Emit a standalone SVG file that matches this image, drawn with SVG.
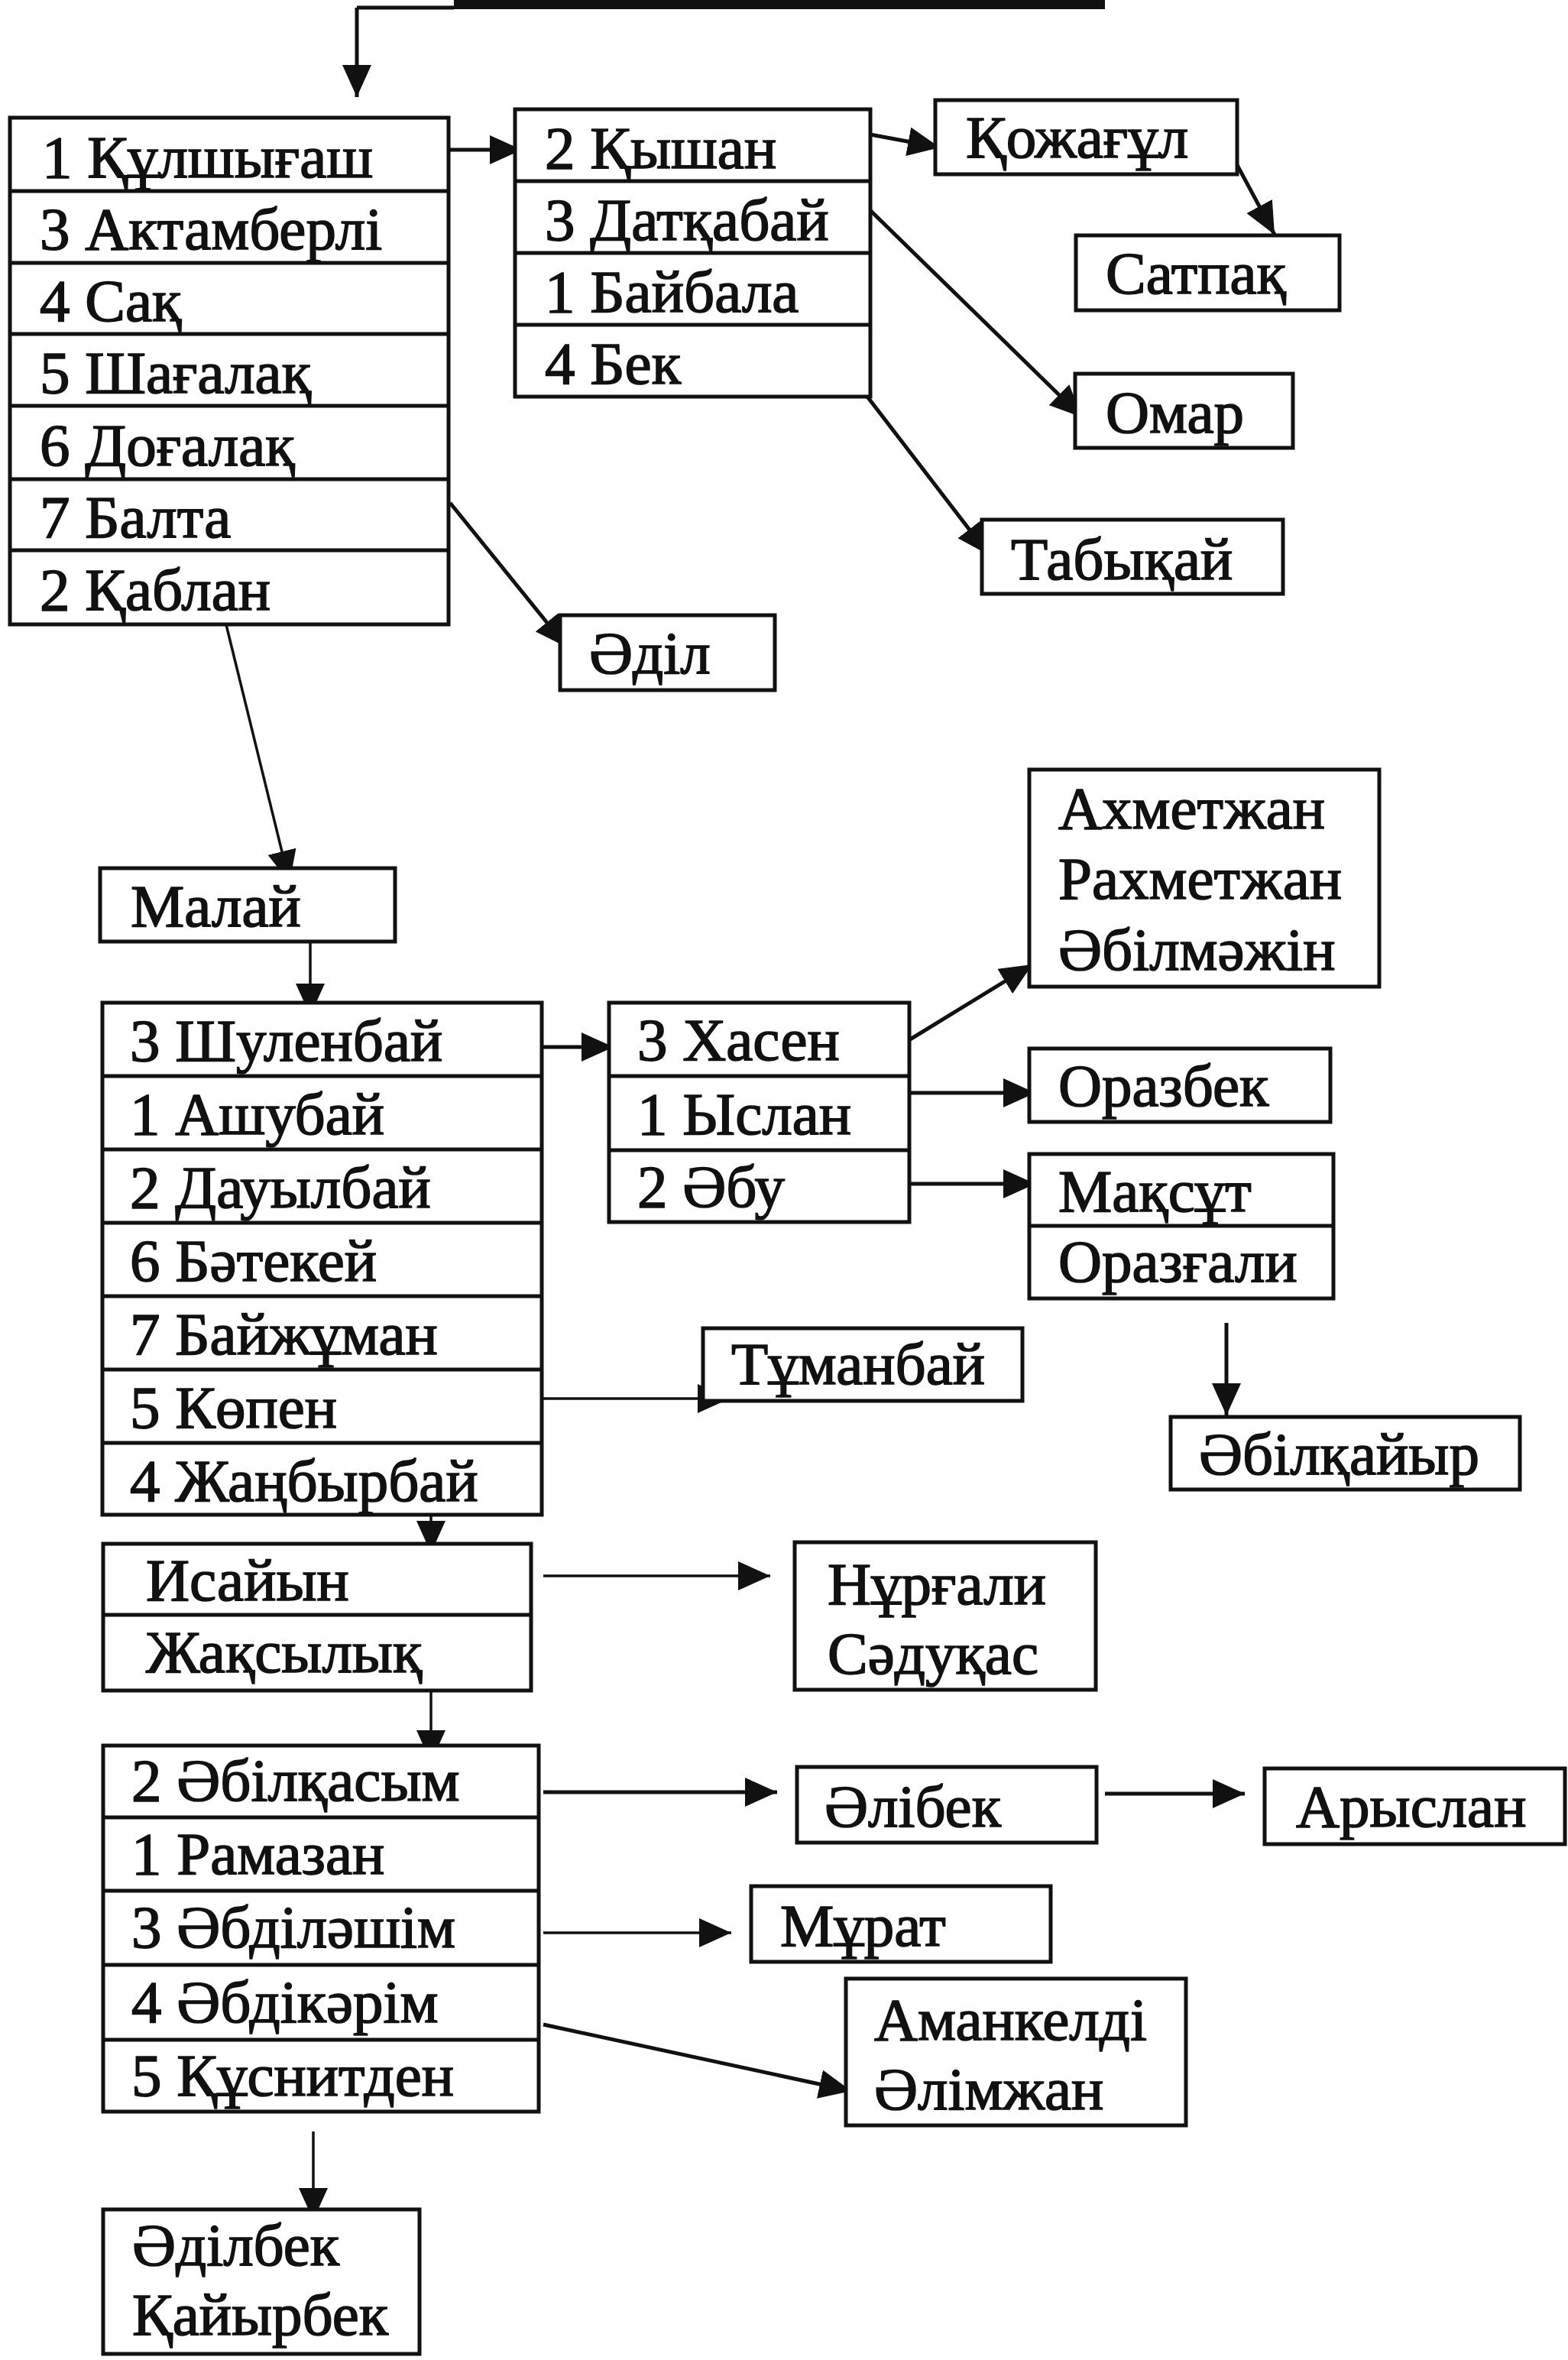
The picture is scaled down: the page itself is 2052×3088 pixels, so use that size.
<svg xmlns="http://www.w3.org/2000/svg" width="2052" height="3088" viewBox="0 0 2052 3088">
<style>
.box{fill:#fff;stroke:#111;stroke-width:5}
.div{stroke:#111;stroke-width:5}
.t{font-family:"Liberation Serif","Times New Roman",serif;font-size:79px;fill:#111;stroke:#111;stroke-width:1.6}
.c{stroke:#111;stroke-width:5;fill:none;marker-end:url(#ah)}
.thin{stroke-width:3.5}
</style>
<defs>
<marker id="ah" markerUnits="userSpaceOnUse" markerWidth="42" markerHeight="38" refX="42" refY="19" orient="auto">
<path d="M0,0 L42,19 L0,38 z" fill="#111"/>
</marker>
</defs>
<rect width="2052" height="3088" fill="#fff"/>

<g id="connectors">
<path d="M594,10 L467,10" stroke="#111" stroke-width="5" fill="none"/>
<rect x="594" y="0" width="852" height="12" fill="#111"/>
<path class="c" d="M467,10 L467,127"/>
<path class="c" d="M562,196 L683,196"/>
<path class="c" d="M1139,176 L1230,193"/>
<path class="c" d="M1604,188 L1668,307"/>
<path class="c" d="M1112,249 L1416,546"/>
<path class="c" d="M1112,489 L1294,726"/>
<path class="c" d="M589,658 L742,847"/>
<path class="c thin" d="M289,789 L379,1155"/>
<path class="c thin" d="M406,1211 L406,1329"/>
<path class="c" d="M684,1370 L803,1370"/>
<path class="c" d="M1178,1368 L1351,1262"/>
<path class="c" d="M1178,1430 L1355,1430"/>
<path class="c" d="M1174,1549 L1355,1549"/>
<path class="c" d="M1605,1731 L1605,1852"/>
<path class="c thin" d="M709,1830 L955,1830"/>
<path class="c thin" d="M564,1974 L564,2032"/>
<path class="c thin" d="M711,2062 L1008,2062"/>
<path class="c thin" d="M564,2212 L564,2306"/>
<path class="c" d="M711,2345 L1017,2345"/>
<path class="c" d="M1446,2347 L1629,2347"/>
<path class="c thin" d="M711,2529 L957,2529"/>
<path class="c" d="M711,2649 L1114,2736"/>
<path class="c thin" d="M410,2789 L410,2905"/>
</g>

<g id="boxA">
<rect class="box" x="13" y="154" width="574" height="663"/>
<path class="div" d="M13,250H587M13,344H587M13,437H587M13,531H587M13,627H587M13,720H587"/>
<text class="t" x="55" y="232">1 Құлшығаш</text>
<text class="t" x="52" y="326">3 Актамберлі</text>
<text class="t" x="52" y="420">4 Сақ</text>
<text class="t" x="52" y="514">5 Шағалақ</text>
<text class="t" x="52" y="609">6 Доғалақ</text>
<text class="t" x="52" y="703">7 Балта</text>
<text class="t" x="52" y="798">2 Қаблан</text>
</g>

<g id="boxB">
<rect class="box" x="674" y="143" width="465" height="376"/>
<path class="div" d="M674,237H1139M674,331H1139M674,425H1139"/>
<text class="t" x="713" y="220">2 Қышан</text>
<text class="t" x="713" y="314">3 Датқабай</text>
<text class="t" x="713" y="408">1 Байбала</text>
<text class="t" x="713" y="502">4 Бек</text>
</g>

<g id="kozhagul"><rect class="box" x="1224" y="131" width="395" height="97"/><text class="t" x="1264" y="206">Қожағұл</text></g>
<g id="satpak"><rect class="box" x="1408" y="308" width="345" height="98"/><text class="t" x="1447" y="384">Сатпақ</text></g>
<g id="omar"><rect class="box" x="1407" y="489" width="285" height="97"/><text class="t" x="1447" y="566">Омар</text></g>
<g id="tabykai"><rect class="box" x="1285" y="680" width="394" height="97"/><text class="t" x="1323" y="758">Табықай</text></g>
<g id="adil"><rect class="box" x="733" y="805" width="281" height="98"/><text class="t" x="771" y="881">Әділ</text></g>
<g id="malai"><rect class="box" x="131" y="1136" width="386" height="96"/><text class="t" x="171" y="1212">Малай</text></g>

<g id="boxC">
<rect class="box" x="134" y="1312" width="575" height="670"/>
<path class="div" d="M134,1408H709M134,1504H709M134,1600H709M134,1696H709M134,1792H709M134,1888H709"/>
<text class="t" x="170" y="1388">3 Шуленбай</text>
<text class="t" x="170" y="1484">1 Ашубай</text>
<text class="t" x="170" y="1580">2 Дауылбай</text>
<text class="t" x="170" y="1676">6 Бәтекей</text>
<text class="t" x="170" y="1772">7 Байжұман</text>
<text class="t" x="170" y="1868">5 Көпен</text>
<text class="t" x="170" y="1964">4 Жаңбырбай</text>
</g>

<g id="boxD">
<rect class="box" x="797" y="1312" width="393" height="287"/>
<path class="div" d="M797,1408H1190M797,1505H1190"/>
<text class="t" x="834" y="1387">3 Хасен</text>
<text class="t" x="834" y="1484">1 Ыслан</text>
<text class="t" x="834" y="1579">2 Әбу</text>
</g>

<g id="akhmetzhan">
<rect class="box" x="1347" y="1007" width="458" height="284"/>
<text class="t" x="1385" y="1084">Ахметжан</text>
<text class="t" x="1385" y="1176">Рахметжан</text>
<text class="t" x="1385" y="1269">Әбілмәжін</text>
</g>
<g id="orazbek"><rect class="box" x="1347" y="1372" width="394" height="96"/><text class="t" x="1385" y="1447">Оразбек</text></g>
<g id="maksut">
<rect class="box" x="1347" y="1510" width="398" height="189"/>
<path class="div" d="M1347,1604H1745"/>
<text class="t" x="1385" y="1585">Мақсұт</text>
<text class="t" x="1385" y="1677">Оразғали</text>
</g>
<g id="abilkaiyr"><rect class="box" x="1532" y="1854" width="457" height="95"/><text class="t" x="1569" y="1929">Әбілқайыр</text></g>
<g id="tumanbai"><rect class="box" x="920" y="1738" width="418" height="95"/><text class="t" x="957" y="1811">Тұманбай</text></g>

<g id="boxE">
<rect class="box" x="135" y="2020" width="560" height="192"/>
<path class="div" d="M135,2113H695"/>
<text class="t" x="191" y="2094">Исайын</text>
<text class="t" x="191" y="2188">Жақсылық</text>
</g>
<g id="nurgali">
<rect class="box" x="1040" y="2018" width="394" height="193"/>
<text class="t" x="1083" y="2099">Нұрғали</text>
<text class="t" x="1083" y="2190">Сәдуқас</text>
</g>

<g id="boxF">
<rect class="box" x="135" y="2284" width="570" height="479"/>
<path class="div" d="M135,2378H705M135,2474H705M135,2571H705M135,2669H705"/>
<text class="t" x="172" y="2356">2 Әбілқасым</text>
<text class="t" x="172" y="2452">1 Рамазан</text>
<text class="t" x="172" y="2548">3 Әбділәшім</text>
<text class="t" x="172" y="2646">4 Әбдікәрім</text>
<text class="t" x="172" y="2742">5 Құснитден</text>
</g>

<g id="alibek"><rect class="box" x="1043" y="2312" width="392" height="99"/><text class="t" x="1079" y="2390">Әлібек</text></g>
<g id="aryslan"><rect class="box" x="1655" y="2314" width="393" height="99"/><text class="t" x="1696" y="2390">Арыслан</text></g>
<g id="murat"><rect class="box" x="983" y="2468" width="392" height="99"/><text class="t" x="1021" y="2546">Мұрат</text></g>
<g id="amankeldi">
<rect class="box" x="1107" y="2589" width="445" height="192"/>
<text class="t" x="1144" y="2669">Аманкелді</text>
<text class="t" x="1144" y="2760">Әлімжан</text>
</g>
<g id="adilbek">
<rect class="box" x="135" y="2891" width="414" height="189"/>
<text class="t" x="173" y="2964">Әділбек</text>
<text class="t" x="173" y="3055">Қайырбек</text>
</g>
</svg>
